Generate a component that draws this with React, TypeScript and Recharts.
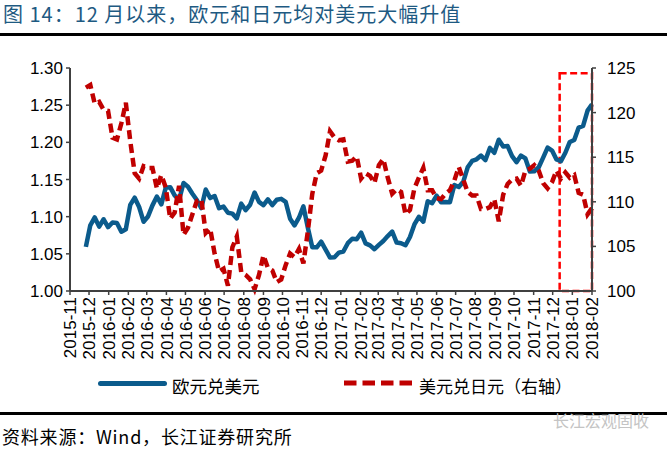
import React from 'react'
import { ComposedChart, Line, XAxis, YAxis, ReferenceArea } from 'recharts'

// weekly closes, first point 2015-11-26, one point every 7 days
const startDate = '2015-11-26'

const eurUsd = [
  1.0594, 1.0884, 1.099, 1.0866, 1.0965,
  1.086, 1.0922, 1.0915, 1.0797, 1.0831,
  1.1158, 1.1255, 1.113, 1.0932,
  1.1003, 1.1152, 1.1271, 1.1166,
  1.139, 1.1397, 1.1286, 1.1226, 1.1453,
  1.1403, 1.1309, 1.1224, 1.1115,
  1.1366, 1.125, 1.1278, 1.1114,
  1.1136, 1.1053, 1.1041, 1.0976, 1.1175,
  1.1087, 1.116, 1.1324, 1.1199,
  1.1154, 1.1233, 1.1155, 1.1227, 1.124,
  1.12, 1.0972, 1.0882, 1.0986,
  1.1139, 1.0852, 1.0587, 1.0588,
  1.0663, 1.0557, 1.045, 1.0454, 1.0517,
  1.0532, 1.0643, 1.0703, 1.0697,
  1.0785, 1.064, 1.0614, 1.0562,
  1.062, 1.0673, 1.0739, 1.08, 1.0652,
  1.0642, 1.0615, 1.0726, 1.0896,
  1.0998, 1.0933, 1.1207, 1.1181,
  1.1282, 1.1195, 1.1198, 1.1195, 1.1426,
  1.1399, 1.1469, 1.1664, 1.175,
  1.1772, 1.1822, 1.1761, 1.1925,
  1.186, 1.2035, 1.1944, 1.195, 1.1814,
  1.1733, 1.1822, 1.1783, 1.1609,
  1.161, 1.1665, 1.1795, 1.193,
  1.189, 1.1769, 1.1747, 1.186, 1.2005,
  1.2031, 1.2199, 1.2221, 1.2426, 1.251,
]

const usdJpy = [
  122.8, 123.1, 121.0, 121.2, 120.3,
  120.2, 117.2, 117.0, 118.8, 121.1,
  116.8, 113.2, 112.6, 114.0,
  113.8, 113.8, 111.5, 113.0,
  111.6, 108.1, 108.8, 111.8, 106.3,
  107.1, 108.6, 110.1, 110.3,
  106.5, 107.0, 104.2, 102.2,
  102.5, 100.6, 104.9, 106.1, 102.1,
  101.8, 101.3, 100.2, 101.8,
  104.0, 102.6, 102.3, 101.0, 101.3,
  102.9, 104.2, 103.8, 104.7,
  103.1, 106.7, 110.9, 113.2,
  113.5, 115.2, 117.9, 117.2, 116.9,
  117.0, 114.5, 114.6, 115.1,
  112.6, 113.2, 112.9, 112.1,
  114.1, 114.8, 112.7, 110.9, 111.4,
  111.1, 108.6, 109.1, 111.5,
  112.7, 113.8, 111.3, 111.3,
  110.4, 110.3, 110.9, 111.3, 112.4,
  113.9, 112.5, 111.1, 110.7,
  110.7, 109.2, 109.2, 109.4,
  110.3, 107.8, 110.8, 112.0, 112.5,
  112.6, 111.8, 113.5, 113.7,
  114.1, 113.5, 112.1, 111.5,
  112.2, 113.5, 112.6, 113.3, 112.7,
  113.0, 111.0, 110.8, 108.6, 109.3,
]

const monthTicks = [
  '2015-11', '2015-12', '2016-01', '2016-02', '2016-03', '2016-04', '2016-05',
  '2016-06', '2016-07', '2016-08', '2016-09', '2016-10', '2016-11', '2016-12',
  '2017-01', '2017-02', '2017-03', '2017-04', '2017-05', '2017-06', '2017-07',
  '2017-08', '2017-09', '2017-10', '2017-11', '2017-12', '2018-01', '2018-02',
]
const leftTicks = [1.0, 1.05, 1.1, 1.15, 1.2, 1.25, 1.3]
const rightTicks = [100, 105, 110, 115, 120, 125]

// dashed box marking the recent move (right axis units)
const boxFrom = '2017-12-12'
const boxTo = '2018-02-01'
const boxTop = 124.4

const BLUE = '#0B5B8C'
const RED = '#C00000'
const AXIS = '#404040'
const NUM_FONT = '"Liberation Sans", Arial, sans-serif'
const CJK_FONT = '"Noto Sans CJK SC", "Noto Sans", sans-serif'

const DAY = 86400000
const toTime = (s: string) => Date.parse(s.length === 7 ? s + '-01' : s)
const start = toTime(startDate)

const data = eurUsd.map((v, i) => ({ t: start + i * 7 * DAY, eur: v, jpy: usdJpy[i] }))

const MonthTick = (props: any) => {
  const { x, y, payload } = props
  const label = new Date(payload.value).toISOString().slice(0, 7)
  return (
    <text
      x={x}
      y={y}
      dy="0.36em"
      transform={`rotate(-90 ${x} ${y})`}
      textAnchor="end"
      fontSize={17}
      fontFamily={NUM_FONT}
      fill="#000"
    >
      {label}
    </text>
  )
}

export default function App() {
  return (
    <div style={{ position: 'absolute', left: 0, top: 0, width: 667, height: 449, background: '#fff', fontFamily: CJK_FONT }}>
      <div style={{ position: 'absolute', left: 3, top: 2, fontSize: 20, letterSpacing: 1, lineHeight: '24px', color: '#1E5A82', whiteSpace: 'nowrap' }}>
        图 14：12 月以来，欧元和日元均对美元大幅升值
      </div>
      <div style={{ position: 'absolute', left: 0, top: 33, width: 667, height: 2.5, background: '#000' }} />

      <div style={{ position: 'absolute', left: 0, top: 0 }}>
        <ComposedChart width={667} height={370} data={data} margin={{ top: 68, right: 0, bottom: 9, left: 0 }}>
          <XAxis
            dataKey="t"
            type="number"
            domain={[toTime('2015-11'), toTime('2018-02')]}
            ticks={monthTicks.map(toTime)}
            interval={0}
            height={70}
            tick={<MonthTick />}
            tickSize={4}
            tickMargin={2}
            axisLine={{ stroke: AXIS, strokeWidth: 2 }}
            tickLine={{ stroke: AXIS, strokeWidth: 1.5 }}
          />
          <YAxis
            yAxisId="left"
            domain={[1, 1.3]}
            ticks={leftTicks}
            interval={0}
            width={70}
            tickFormatter={(v: number) => v.toFixed(2)}
            tickSize={4}
            tickMargin={3}
            tick={{ fontSize: 17, fill: '#000', fontFamily: NUM_FONT }}
            axisLine={{ stroke: AXIS, strokeWidth: 2 }}
            tickLine={{ stroke: AXIS, strokeWidth: 1.5 }}
          />
          <YAxis
            yAxisId="right"
            orientation="right"
            domain={[100, 125]}
            ticks={rightTicks}
            interval={0}
            width={75}
            tickSize={4}
            tickMargin={11}
            tick={{ fontSize: 17, fill: '#000', fontFamily: NUM_FONT }}
            axisLine={{ stroke: AXIS, strokeWidth: 2 }}
            tickLine={{ stroke: AXIS, strokeWidth: 1.5 }}
          />
          <Line
            yAxisId="left"
            type="linear"
            dataKey="eur"
            stroke={BLUE}
            strokeWidth={4.5}
            strokeLinejoin="round"
            dot={false}
            isAnimationActive={false}
          />
          <Line
            yAxisId="right"
            type="linear"
            dataKey="jpy"
            stroke={RED}
            strokeWidth={4.5}
            strokeDasharray="9 5"
            dot={false}
            isAnimationActive={false}
          />
          <ReferenceArea
            yAxisId="right"
            x1={toTime(boxFrom)}
            x2={toTime(boxTo)}
            y1={100}
            y2={boxTop}
            fill="none"
            fillOpacity={0}
            stroke="#FF0000"
            strokeWidth={2.5}
            strokeDasharray="7 3.5"
          />
        </ComposedChart>
      </div>

      <div style={{ position: 'absolute', left: 98, top: 381, width: 69, height: 5, borderRadius: 2.5, background: BLUE }} />
      <div style={{ position: 'absolute', left: 172, top: 374, fontSize: 17.5, lineHeight: '24px', color: '#000' }}>欧元兑美元</div>
      <svg style={{ position: 'absolute', left: 344, top: 378 }} width={70} height={10}>
        <line x1={0} y1={5} x2={68} y2={5} stroke={RED} strokeWidth={5} strokeDasharray="12.5 6" />
      </svg>
      <div style={{ position: 'absolute', left: 419, top: 374, fontSize: 17, lineHeight: '24px', color: '#000' }}>美元兑日元（右轴）</div>

      <div style={{ position: 'absolute', left: 0, top: 412, width: 667, height: 2.5, background: '#000' }} />
      <div style={{ position: 'absolute', left: 553, top: 408, fontSize: 16, lineHeight: '24px', color: '#c4c4c4' }}>长江宏观固收</div>
      <div style={{ position: 'absolute', left: 2, top: 423, fontSize: 18, letterSpacing: 0.8, lineHeight: '26px', color: '#000', whiteSpace: 'nowrap' }}>
        资料来源：Wind，长江证券研究所
      </div>
    </div>
  )
}
